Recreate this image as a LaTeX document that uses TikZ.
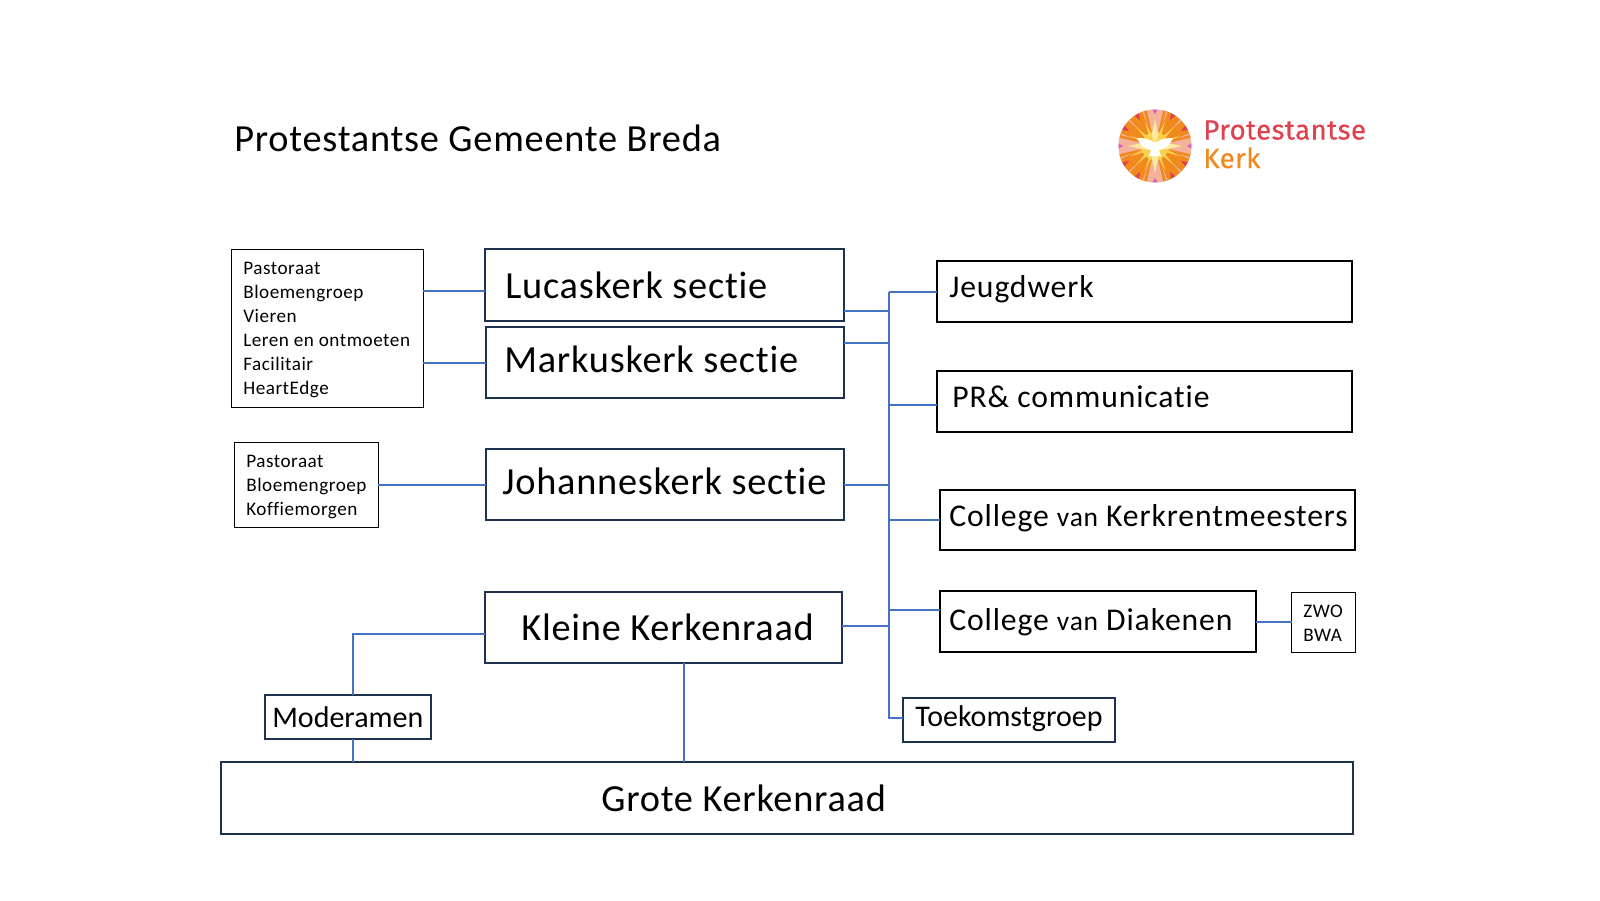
\documentclass[tikz,border=0pt]{standalone}
\usepackage{fontspec}
\setmainfont{Carlito}[Ligatures=NoCommon]
\newfontfamily\bigfam{Carlito}[LetterSpace=2,Ligatures=NoCommon]
\newfontfamily\midfam{Carlito}[LetterSpace=2.8,Ligatures=NoCommon]
\newfontfamily\smallfam{Carlito}[LetterSpace=2.7,Ligatures=NoCommon]
\newfontfamily\logofont{Fira Sans}[FakeBold=0.35,LetterSpace=1.5]
\definecolor{navy}{HTML}{1F3250}
\definecolor{conn}{HTML}{4472C4}
\definecolor{logored}{HTML}{E0414F}
\definecolor{logoor}{HTML}{F18A1E}
\definecolor{logopink}{HTML}{F2B29C}
\definecolor{logoyel}{HTML}{FBD250}
\definecolor{logolight}{HTML}{FDE9A0}
\definecolor{logomag}{HTML}{D45FC0}
\tikzset{
 thinbox/.style={draw=black,line width=0.6pt,anchor=north west,inner sep=0pt,outer sep=0pt,align=left},
 bigbox/.style={draw=navy,line width=1.2pt,anchor=north west,inner sep=0pt,outer sep=0pt},
 blackbox/.style={draw=black,line width=1.2pt,anchor=north west,inner sep=0pt,outer sep=0pt},
 lbl/.style={anchor=base west,inner sep=0pt,text=black},
 cn/.style={draw=conn,line width=1.2pt},
}
\newcommand{\bigbx}[6]{\node[#1,minimum width=#4*0.6pt,minimum height=#5*0.6pt] (#6) at (#2,#3) {};}
\begin{document}
\begin{tikzpicture}[x=0.6pt,y=-0.6pt]
\useasboundingbox (0,0) rectangle (1600,900);
\fill[white] (0,0) rectangle (1600,900);
% title
\node[lbl,font=\bigfam\fontsize{23}{25}\selectfont] (title) at (234,151) {Protestantse Gemeente Breda};
% logo
\begin{scope}[shift={(1155,146)}]
 \fill[logopink] (0,0) circle (36.5);
 \foreach \q in {0,90,180,270} {
  \fill[logoor] (0,0) -- (\q+13:36.5) arc (\q+13:\q+77:36.5) -- cycle;
  \foreach \d in {19,45,71} {
   \fill[logopink] (\d+\q-1.2:36.5) -- (\d+\q+1.2:36.5) -- (\d+\q:22) -- cycle;
  }
  \foreach \d in {30,60} {
   \fill[logored] (\d+\q-4:36.5) arc (\d+\q-4:\d+\q+4:36.5) -- (\d+\q:30) -- cycle;
  }
  \fill[logomag] (\q-4:36.5) arc (\q-4:\q+4:36.5) -- (\q:32) -- cycle;
 }
 \foreach \a in {0,22.5,...,337.5} { \fill[logoyel] (\a-6:13) -- (\a:27) -- (\a+6:13) -- cycle; }
 \fill[logoyel] (0,0) circle (14);
 \foreach \a in {0,90,180,270} { \fill[logolight] (\a-16:12) -- (\a:27) -- (\a+16:12) -- (0,0) -- cycle; }
 \fill[white] (-18,-8) .. controls (-9,-8) and (-4,-6) .. (0,-3) .. controls (4,-6) and (9,-8) .. (18,-8) .. controls (14,1) and (8,4) .. (4,4) -- (6,10) -- (-6,10) -- (-4,4) .. controls (-8,4) and (-14,1) .. (-18,-8) -- cycle;
\end{scope}
\node[lbl,font=\logofont\fontsize{16.6}{18}\selectfont,text=logored] (lp) at (1203,139.5) {Protestantse};
\node[lbl,font=\logofont\fontsize{16.6}{18}\selectfont,text=logoor] (lk) at (1203,168) {Kerk};
% thin boxes
\bigbx{thinbox}{231.5}{249.5}{191.5}{157.5}{b1}
\bigbx{thinbox}{234.5}{442}{143.5}{85}{b2}
\bigbx{thinbox}{1291.5}{592.5}{64}{59.5}{zwo}
\foreach \y/\t [count=\i] in {274/Pastoraat,298/Bloemengroep,322/Vieren,346/Leren en ontmoeten,370/Facilitair,394/HeartEdge}
 \node[lbl,font=\smallfam\fontsize{11.5}{13}\selectfont] (ta\i) at (243,\y) {\t};
\foreach \y/\t [count=\i] in {467/Pastoraat,491/Bloemengroep,515/Koffiemorgen}
 \node[lbl,font=\smallfam\fontsize{11.5}{13}\selectfont] (tb\i) at (246,\y) {\t};
\node[lbl,font=\smallfam\fontsize{11.5}{13}\selectfont] (tz1) at (1303,617) {ZWO};
\node[lbl,font=\smallfam\fontsize{11.5}{13}\selectfont] (tz2) at (1303,641) {BWA};
% big boxes
\bigbx{bigbox}{485}{249}{359}{72}{lucas}
\bigbx{bigbox}{486}{326.5}{358}{71.5}{markus}
\bigbx{bigbox}{486}{449}{358}{71}{johannes}
\bigbx{bigbox}{485}{592}{357}{71}{kleine}
\bigbx{bigbox}{265}{695}{166}{44}{moderamen}
\bigbx{bigbox}{220.5}{762}{1132.5}{72}{grote}
\bigbx{blackbox}{937}{261}{415}{61}{jeugd}
\bigbx{blackbox}{937}{371}{415}{61}{pr}
\bigbx{blackbox}{940}{490}{415}{60}{ck}
\bigbx{blackbox}{940}{591}{316}{61}{cd}
\bigbx{bigbox}{903}{698}{212}{44}{toekomst}
\def\bigf{\bigfam\fontsize{23}{25}\selectfont}
\def\midf{\midfam\fontsize{19}{21}\selectfont}
\def\plainf{\fontsize{18}{20}\selectfont}
\node[lbl,font=\bigf] (t1) at (505,298) {Lucaskerk sectie};
\node[lbl,font=\bigf] (t2) at (504,372) {Markuskerk sectie};
\node[lbl,font=\bigf] (t3) at (502,494) {Johanneskerk sectie};
\node[lbl,font=\bigf] (t4) at (521,640) {Kleine Kerkenraad};
\node[lbl,font=\bigf] (t5) at (601,811) {Grote Kerkenraad};
\node[lbl,font=\plainf] (t6) at (272,727) {Moderamen};
\node[lbl,font=\midf] (t7) at (949,297) {Jeugdwerk};
\node[lbl,font=\midf] (t8) at (952,407) {PR\& communicatie};
\node[lbl,font=\midf] (t9) at (949,526) {College {\fontsize{16.5}{18}\selectfont van} Kerkrentmeesters};
\node[lbl,font=\midf] (t10) at (949,630) {College {\fontsize{16.5}{18}\selectfont van} Diakenen};
\node[lbl,font=\plainf] (t11) at (915,726) {Toekomstgroep};
% connectors
\coordinate (a1) at (0,291);
\coordinate (a2) at (0,363);
\coordinate (a3) at (0,484.5);
\draw[cn] (a1 -| b1.east) -- (a1 -| lucas.west);
\draw[cn] (a2 -| b1.east) -- (a2 -| markus.west);
\draw[cn] (a3 -| b2.east) -- (a3 -| johannes.west);
\coordinate (ttop) at (889,292);
\coordinate (tl) at (889,311);
\coordinate (tm) at (889,343);
\coordinate (tpr) at (889,405);
\coordinate (tj) at (889,485);
\coordinate (tck) at (889,520);
\coordinate (tcd) at (889,610);
\coordinate (tk) at (889,626);
\coordinate (tbot) at (889,717.5);
\draw[cn] (ttop) -- (tbot) -- (tbot -| toekomst.west);
\draw[cn] (ttop) -- (ttop -| jeugd.west);
\draw[cn] (tl -| lucas.east) -- (tl);
\draw[cn] (tm -| markus.east) -- (tm);
\draw[cn] (tpr) -- (tpr -| pr.west);
\draw[cn] (tj -| johannes.east) -- (tj);
\draw[cn] (tck) -- (tck -| ck.west);
\draw[cn] (tcd) -- (tcd -| cd.west);
\draw[cn] (tk -| kleine.east) -- (tk);
\coordinate (dz) at (0,622);
\draw[cn] (dz -| cd.east) -- (dz -| zwo.west);
\coordinate (kl) at (0,633.5);
\coordinate (mx) at (353,0);
\draw[cn] (kl -| kleine.west) -- (kl -| mx) -- (mx |- moderamen.north);
\draw[cn] (mx |- moderamen.south) -- (mx |- grote.north);
\coordinate (gx) at (683.5,0);
\draw[cn] (gx |- kleine.south) -- (gx |- grote.north);
\end{tikzpicture}
\end{document}
